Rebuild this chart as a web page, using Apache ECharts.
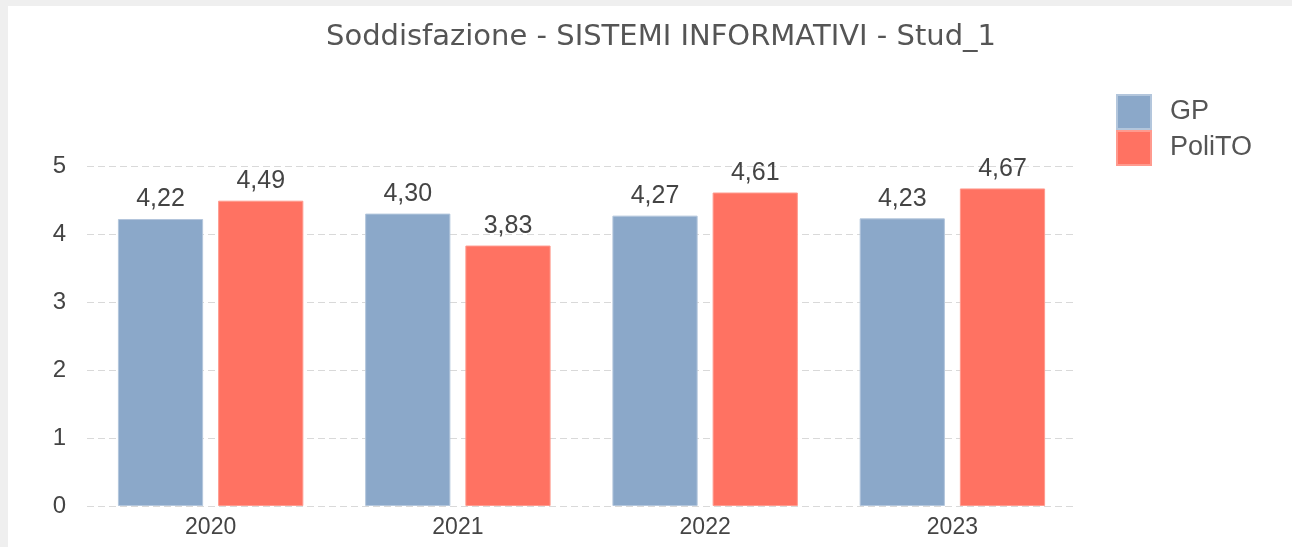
<!DOCTYPE html>
<html>
<head>
<meta charset="utf-8">
<script src="https://cdn.jsdelivr.net/npm/echarts@6/dist/echarts.min.js"></script>
<style>
  html, body { margin: 0; padding: 0; background: #efefef; }
  #chart { position: absolute; left: 8px; top: 6px; width: 1284px; height: 541px; background: #fff; }
</style>
</head>
<body>
<div id="chart"></div>
<script>
// dati del grafico
const years = ['2020', '2021', '2022', '2023']
const gpValues = [4.22, 4.30, 4.27, 4.23]
const politoValues = [4.49, 3.83, 4.61, 4.67]
const yTicks = [0, 1, 2, 3, 4, 5]

const FONT = 'Liberation Sans'
const fmt = (v) => v.toFixed(2).replace('.', ',')

const chart = echarts.init(document.getElementById('chart'))

chart.setOption({
  animation: false,
  title: {
    text: 'Soddisfazione - SISTEMI INFORMATIVI - Stud_1',
    left: 648,
    top: 12,
    textAlign: 'center',
    textStyle: { fontFamily: 'DejaVu Sans', fontSize: 29, fontWeight: 'normal', color: '#555' }
  },
  legend: {
    orient: 'vertical',
    left: 1103,
    top: 83,
    itemWidth: 34,
    itemHeight: 34,
    itemGap: 0,
    icon: 'rect',
    textStyle: { fontFamily: FONT, fontSize: 27, color: '#555', padding: [0, 0, 0, 14] },
    data: ['GP', 'PoliTO']
  },
  grid: { left: 79, right: 216, top: 160, bottom: 41 },
  xAxis: {
    type: 'category',
    data: years,
    axisLine: { show: false },
    axisTick: { show: false },
    axisLabel: { fontFamily: FONT, fontSize: 23, color: '#444', margin: 10 }
  },
  yAxis: {
    type: 'value',
    min: yTicks[0],
    max: yTicks[yTicks.length - 1],
    interval: 1,
    axisLabel: { fontFamily: FONT, fontSize: 24, color: '#444', margin: 21 },
    splitLine: { lineStyle: { color: '#d9d9d9', type: [7, 4], width: 1 } }
  },
  series: [
    {
      name: 'GP',
      type: 'bar',
      data: gpValues,
      barCategoryGap: '25%',
      barGap: '17.6%',
      itemStyle: { color: '#8ba8c9', borderColor: '#b3c6dc', borderWidth: 1 },
      label: {
        show: true, position: 'top', distance: 7,
        formatter: (p) => fmt(p.value),
        fontFamily: FONT, fontSize: 25, color: '#444'
      }
    },
    {
      name: 'PoliTO',
      type: 'bar',
      data: politoValues,
      itemStyle: { color: '#ff7262', borderColor: '#ff9a8e', borderWidth: 1 },
      label: {
        show: true, position: 'top', distance: 7,
        formatter: (p) => fmt(p.value),
        fontFamily: FONT, fontSize: 25, color: '#444'
      }
    }
  ]
})
</script>
</body>
</html>
